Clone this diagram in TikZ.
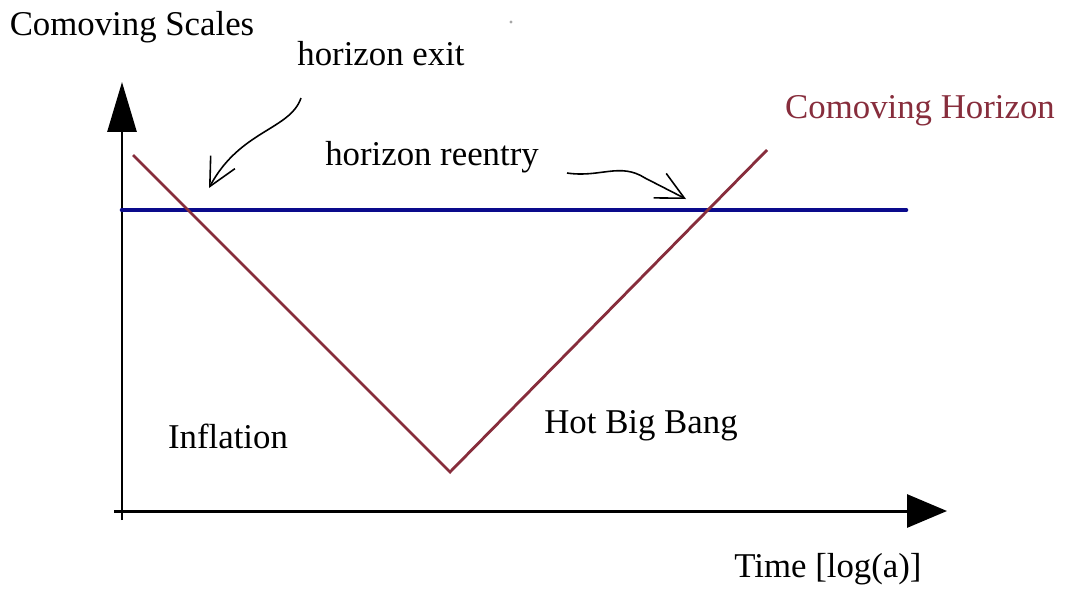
\documentclass[tikz,border=0pt]{standalone}
\usepackage{fontspec}
\setmainfont{Liberation Serif}
\usetikzlibrary{arrows.meta}
\definecolor{hred}{RGB}{135,45,60}
\definecolor{hblue}{RGB}{10,10,140}
\begin{document}
\begin{tikzpicture}[x=0.02cm,y=-0.02cm,
  lbl/.style={font=\fontsize{19.8}{24}\selectfont, inner sep=0pt, anchor=center},
  axis/.style={line width=1.7pt},
  hor/.style={hred, line width=1.6pt, line join=miter},
  scale line/.style={hblue, line width=2.6pt, line cap=round},
  note/.style={line width=0.9pt, -{Straight Barb[length=0.55cm,width=0.55cm,line width=0.9pt]}}]
\useasboundingbox (0,0) rectangle (1067,592);
\fill[white] (0,0) rectangle (1067,592);
% axes
\coordinate (o) at (122,511);
\coordinate (yb) at (122,520);
\coordinate (yt) at (122,82);
\coordinate (xl) at (114,511);
\coordinate (xt) at (947,511);
\draw[axis,-{Triangle[length=1.0cm,width=0.58cm]}] (yb) -- (yt);
\draw[axis,-{Triangle[length=0.8cm,width=0.66cm]}] (xl) -- (xt);
% comoving scale line
\coordinate (sl) at (122,210);
\coordinate (sr) at (906,210);
\draw[scale line] (sl) -- (sr);
% comoving horizon
\coordinate (h1) at (133,155);
\coordinate (h2) at (450,472);
\coordinate (h3) at (767,150);
\draw[hor] (h1) -- (h2) -- (h3);
% labels
\node[lbl] (ys) at (132,27) {Comoving Scales};
\node[lbl] (hx) at (381,54) {horizon exit};
\node[lbl] (hr) at (432,157) {horizon reentry};
\node[lbl,text=hred] (ch) at (920,111) {Comoving Horizon};
\node[lbl] (inf) at (228,436) {Inflation};
\node[lbl] (hbb) at (641,426) {Hot Big Bang};
\node[lbl] (tm) at (828,569) {Time [log(a)]};
% annotation arrows
\coordinate (ex0) at (301,98);
\coordinate (ex1) at (209,188);
\draw[note] (ex0) .. controls (290,130) and (240,130) .. (ex1);
\coordinate (re0) at (567,173);
\coordinate (re1) at (686,199);
\draw[note] (re0) .. controls (600,178) and (620,162) .. (645,178) -- (re1);
% stray speck
\fill[gray!70] (511,22) circle (1.6);
\end{tikzpicture}
\end{document}
